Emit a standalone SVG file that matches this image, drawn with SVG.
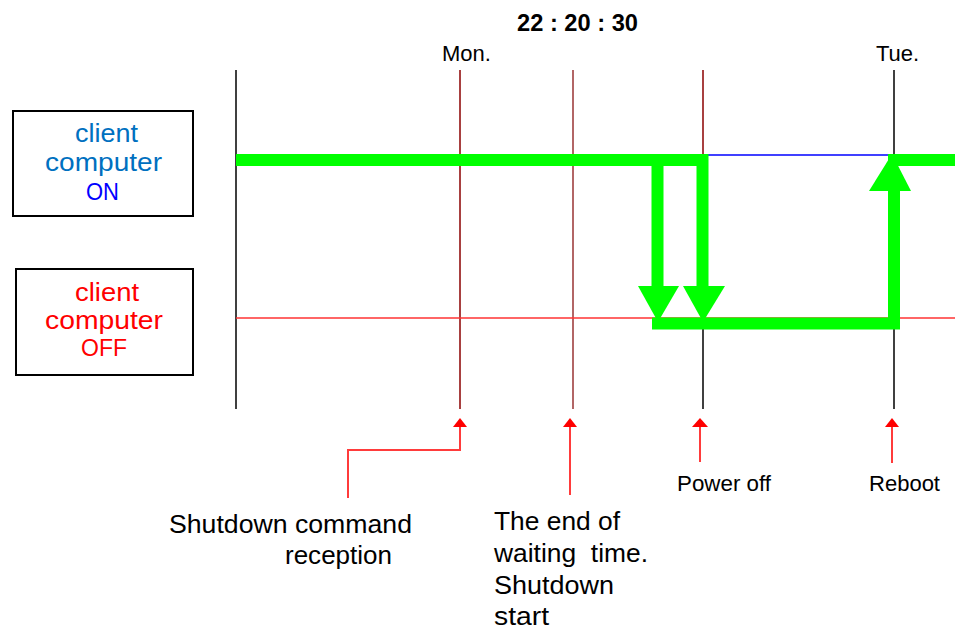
<svg xmlns="http://www.w3.org/2000/svg" width="955" height="632" viewBox="0 0 955 632">
<style>
text{font-family:"Liberation Sans",Arial,sans-serif;}
.box{fill:#fff;stroke:#000;stroke-width:2;}
.lbl{font-size:26px;fill:#000;}
.sm{font-size:22px;fill:#000;}
.grid{stroke-width:1.5;fill:none;}
.green{fill:none;stroke:#00ff00;stroke-width:12;}
.gfill{fill:#00ff00;}
.rarrow{fill:none;stroke:#ff3b3b;stroke-width:2;}
.rhead{fill:#ff0000;}
</style>
<rect width="955" height="632" fill="#fff"/>

<g id="title">
<text x="517" y="31" font-size="23" font-weight="bold" textLength="121" lengthAdjust="spacingAndGlyphs">22 : 20 : 30</text>
<text class="sm" x="442" y="61">Mon.</text>
<text class="sm" x="876" y="61">Tue.</text>
</g>

<g id="node-on">
<rect class="box" x="13" y="111" width="180" height="105"/>
<text x="75" y="142" font-size="25.5" fill="#0070c0" textLength="63" lengthAdjust="spacingAndGlyphs">client</text>
<text x="45" y="171" font-size="25.5" fill="#0070c0" textLength="117" lengthAdjust="spacingAndGlyphs">computer</text>
<text x="86" y="200" font-size="23" fill="#0000ff" textLength="33" lengthAdjust="spacingAndGlyphs">ON</text>
</g>

<g id="node-off">
<rect class="box" x="16" y="269" width="177" height="106"/>
<text x="75" y="301" font-size="25.5" fill="#ff0000" textLength="64" lengthAdjust="spacingAndGlyphs">client</text>
<text x="45" y="329" font-size="25.5" fill="#ff0000" textLength="118" lengthAdjust="spacingAndGlyphs">computer</text>
<text x="81" y="356" font-size="23" fill="#ff0000" textLength="46" lengthAdjust="spacingAndGlyphs">OFF</text>
</g>

<g id="timelines">
<line class="grid" x1="236" y1="70" x2="236" y2="409" stroke="#000"/>
<line class="grid" x1="460" y1="70" x2="460" y2="409" stroke="#8b0000"/>
<line class="grid" x1="573" y1="70" x2="573" y2="409" stroke="#993333"/>
<line class="grid" x1="703" y1="70" x2="703" y2="318" stroke="#8b0000"/>
<line class="grid" x1="703" y1="318" x2="703" y2="409" stroke="#000"/>
<line class="grid" x1="894" y1="70" x2="894" y2="409" stroke="#000"/>
<line x1="236" y1="318" x2="955" y2="318" stroke="#ff3333" stroke-width="1.5"/>
<line x1="703" y1="155" x2="894" y2="155" stroke="#0000ff" stroke-width="1.5"/>
</g>

<g id="connectors">
<polyline class="green" points="236,160 702.5,160 702.5,287"/>
<polygon class="gfill" points="683,286 725,286 703,322"/>
<line class="green" x1="657.5" y1="160" x2="657.5" y2="287"/>
<polygon class="gfill" points="638,286 679,286 658,322"/>
<polyline class="green" points="652,323.5 894,323.5 894,190"/>
<polygon class="gfill" points="869,191 911,191 892,154"/>
<line class="green" x1="888" y1="160" x2="955" y2="160"/>
<polyline class="rarrow" points="348,498 348,450 460,450 460,426"/>
<polygon class="rhead" points="460,418 453,427 467,427"/>
<line class="rarrow" x1="570" y1="495" x2="570" y2="426"/>
<polygon class="rhead" points="570,418 563,427 577,427"/>
<line class="rarrow" x1="700" y1="462" x2="700" y2="426"/>
<polygon class="rhead" points="700,418 692,427 708,427"/>
<line class="rarrow" x1="892" y1="463" x2="892" y2="426"/>
<polygon class="rhead" points="892,418 885,427 899,427"/>
</g>

<g id="labels">
<text class="lbl" x="169" y="533" textLength="243" lengthAdjust="spacingAndGlyphs">Shutdown command</text>
<text class="lbl" x="285" y="564" textLength="107" lengthAdjust="spacingAndGlyphs">reception</text>
<text class="lbl" x="494" y="530" textLength="126" lengthAdjust="spacingAndGlyphs">The end of</text>
<text class="lbl" x="494" y="562" textLength="154" lengthAdjust="spacingAndGlyphs">waiting&#160; time.</text>
<text class="lbl" x="494" y="594" textLength="120" lengthAdjust="spacingAndGlyphs">Shutdown</text>
<text class="lbl" x="494" y="625" textLength="55" lengthAdjust="spacingAndGlyphs">start</text>
<text class="sm" x="677" y="491" textLength="94" lengthAdjust="spacingAndGlyphs">Power off</text>
<text class="sm" x="869" y="491" textLength="71" lengthAdjust="spacingAndGlyphs">Reboot</text>
</g>
</svg>
